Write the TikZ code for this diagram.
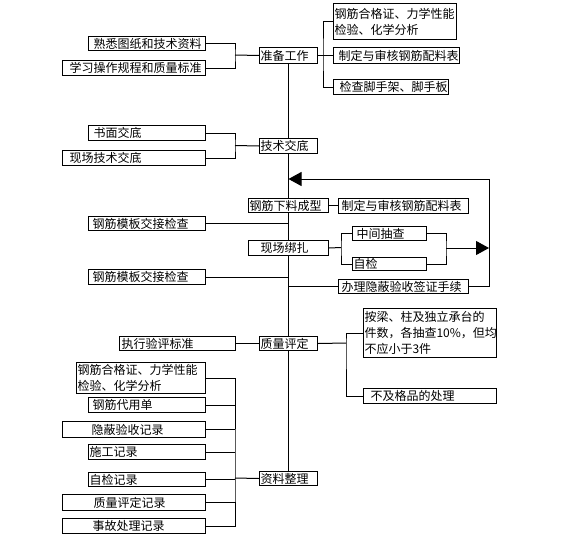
\documentclass[tikz,border=0pt]{standalone}
\usepackage{fontspec}
\setmainfont{Noto Sans CJK SC}
\usetikzlibrary{arrows.meta}
\begin{document}
\begin{tikzpicture}[x=1pt,y=-1pt,
  box/.style={draw, fill=white, line width=1pt, inner xsep=0pt, inner ysep=0pt,
    anchor=north west, align=left, font=\fontsize{12}{16}\selectfont},
  ln/.style={line width=1pt},
  tri/.style={line width=1pt,-{Triangle[length=13pt,width=14pt]}}]
\useasboundingbox (0,0) rectangle (575,543);
% main column
\node[box, text width=58pt, minimum height=16pt] (p1) at (259,47) {\hspace*{1pt}准备工作};
\node[box, text width=58pt, minimum height=15pt] (p2) at (259,138) {\hspace*{1pt}技术交底};
\node[box, text width=80pt, minimum height=14pt] (p3) at (248,198) {\hspace*{1pt}钢筋下料成型};
\node[box, text width=80pt, minimum height=15pt] (p4) at (248,240) {\hspace*{12pt}现场绑扎};
\node[box, text width=58pt, minimum height=14pt] (p5) at (259,336) {\hspace*{1pt}质量评定};
\node[box, text width=58pt, minimum height=14pt] (p6) at (259,471) {\hspace*{1pt}资料整理};
% left top
\node[box, text width=117pt, minimum height=14pt] (a1) at (88,36) {\hspace*{5pt}熟悉图纸和技术资料};
\node[box, text width=143pt, minimum height=15pt] (a2) at (62,60) {\hspace*{7pt}学习操作规程和质量标准};
% right top
\node[box, text width=123pt, minimum height=36pt] (t1) at (333,3) {\hspace*{1pt}钢筋合格证、力学性能\\\hspace*{1pt}检验、化学分析};
\node[box, text width=126pt, minimum height=16pt] (t2) at (333,47) {\hspace*{5pt}制定与审核钢筋配料表};
\node[box, text width=115pt, minimum height=15pt] (t3) at (333,79) {\hspace*{6pt}检查脚手架、脚手板};
% technical
\node[box, text width=117pt, minimum height=15pt] (b1) at (88,125) {\hspace*{5pt}书面交底};
\node[box, text width=143pt, minimum height=15pt] (b2) at (62,150) {\hspace*{7pt}现场技术交底};
% middle
\node[box, text width=130pt, minimum height=15pt] (r4) at (338,198) {\hspace*{3pt}制定与审核钢筋配料表};
\node[box, text width=117pt, minimum height=14pt] (m1) at (88,216) {\hspace*{4pt}钢筋模板交接检查};
\node[box, text width=74pt, minimum height=14pt] (r5) at (352,226) {\hspace*{4pt}中间抽查};
\node[box, text width=74pt, minimum height=13pt] (r6) at (352,257) {\hspace*{1pt}自检};
\node[box, text width=117pt, minimum height=15pt] (m2) at (88,269) {\hspace*{4pt}钢筋模板交接检查};
\node[box, text width=130pt, minimum height=14pt] (r7) at (338,279) {\hspace*{3pt}办理隐蔽验收签证手续};
% quality
\node[box, text width=133pt, minimum height=49pt] (q1) at (363,308) {\hspace*{1pt}按梁、柱及独立承台的\\\hspace*{1pt}件数，各抽查10\%，但均\\\hspace*{1pt}不应小于3件};
\node[box, text width=133pt, minimum height=15pt] (q2) at (363,388) {\hspace*{7pt}不及格品的处理};
\node[box, text width=116pt, minimum height=14pt] (e1) at (119,336) {\hspace*{2pt}执行验评标准};
% documents
\node[box, text width=129pt, minimum height=31pt] (c1) at (76,362) {\hspace*{1pt}钢筋合格证、力学性能\\\hspace*{1pt}检验、化学分析};
\node[box, text width=117pt, minimum height=15pt] (c2) at (88,397) {\hspace*{4pt}钢筋代用单};
\node[box, text width=143pt, minimum height=16pt] (c3) at (62,421) {\hspace*{29pt}隐蔽验收记录};
\node[box, text width=117pt, minimum height=15pt] (c4) at (88,444) {\hspace*{1pt}施工记录};
\node[box, text width=117pt, minimum height=14pt] (c5) at (88,472) {\hspace*{1pt}自检记录};
\node[box, text width=143pt, minimum height=16pt] (c6) at (62,494) {\hspace*{31pt}质量评定记录};
\node[box, text width=143pt, minimum height=15pt] (c7) at (62,518) {\hspace*{30pt}事故处理记录};
% junctions
\coordinate (j1) at (235,55);
\coordinate (jt) at (323,55);
\coordinate (j2) at (235,145.5);
\coordinate (jx) at (341,247.5);
\coordinate (jy) at (446,248);
\coordinate (lr) at (489,179);
\coordinate (jq) at (346,343);
\coordinate (j3) at (235,478);
% connectors
\draw[ln] (a1.east) -| (j1) |- (a2.east);
\draw[ln] (j1) -- (p1.west);
\draw[ln] (t1.west) -| (jt) |- (t3.west);
\draw[ln] (p1.east) -- (t2.west);
\draw[ln] (b1.east) -| (j2) |- (b2.east);
\draw[ln] (j2) -- (p2.west);
\draw[ln] (p1.south) -- (p2.north);
\draw[ln] (p2.south) -- (p3.north);
\draw[ln] (p3.south) -- (p4.north);
\draw[ln] (p4.south) -- (p5.north);
\draw[ln] (p5.south) -- (p6.north);
\draw[ln] (p3.east) -- (p3.east -| r4.west);
\draw[ln] (m1.east) -- (m1.east -| p1.south);
\draw[ln] (m2.east) -- (m2.east -| p1.south);
\draw[ln] (r5.west) -| (jx) |- (r6.west);
\draw[ln] (p4.east) -- (jx);
\draw[ln] (r5.east) -| (jy) |- (r6.east);
\draw[tri] (jy) -- (jy -| lr);
\draw[ln] (r7.west) -- (r7.west -| p1.south);
\draw[tri] (r7.east) -| (lr) -- (lr -| p1.south);
\draw[ln] (q1.west) -| (jq) |- (q2.west);
\draw[ln] (p5.east) -- (jq);
\draw[ln] (e1.east) -- (p5.west);
\draw[ln] (c1.east) -| (j3) |- (c7.east);
\foreach \n in {c2,c3,c4,c5,c6} \draw[ln] (\n.east) -- (\n.east -| j3);
\draw[ln] (j3) -- (p6.west);
\end{tikzpicture}
\end{document}
